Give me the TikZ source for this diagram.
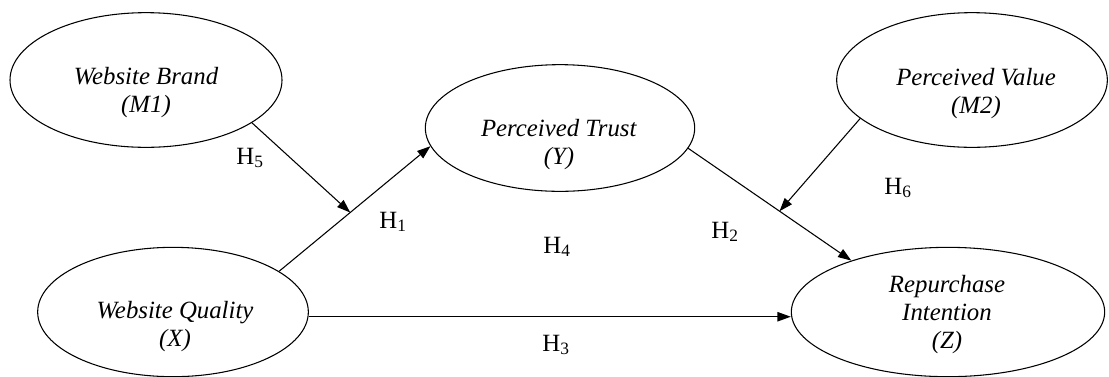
\documentclass[tikz,border=0pt]{standalone}
\usepackage{fontspec}
\setmainfont{Liberation Serif}
\usetikzlibrary{shapes.geometric,arrows.meta}

\begin{document}
\begin{tikzpicture}[x=0.75pt, y=-0.75pt, line width=0.8pt, >={Triangle[length=10pt,width=7pt]}, font=\fontsize{18.6}{21}\selectfont]
        \useasboundingbox (0,0) rectangle (1109,376);

        \node[draw, ellipse, minimum width=204pt, minimum height=101pt] (brand) at (146,80) {};
        \node[draw, ellipse, minimum width=202pt, minimum height=95pt] (trust) at (560,128) {};
        \node[draw, ellipse, minimum width=203pt, minimum height=101pt] (value) at (972,80) {};
        \node[draw, ellipse, minimum width=203pt, minimum height=97pt] (qual) at (173,312) {};
        \node[draw, ellipse, minimum width=235pt, minimum height=97pt] (repur) at (948,312) {};

        \node[align=center, inner sep=0pt] (brandtxt) at (146,93) {\textit{Website Brand}\\\textit{(M1)}};
        \node[align=center, inner sep=0pt] (trusttxt) at (559,145) {\textit{Perceived Trust}\\\textit{(Y)}};
        \node[align=center, inner sep=0pt] (valuetxt) at (976,94) {\textit{Perceived Value}\\\textit{(M2)}};
        \node[align=center, inner sep=0pt] (qualtxt) at (175,327) {\textit{Website Quality}\\\textit{(X)}};
        \node[align=center, inner sep=0pt] (repurtxt) at (947,315) {\textit{Repurchase}\\\textit{Intention}\\\textit{(Z)}};

        \draw[->] (qual.21.6) -- coordinate[pos=0.47] (mod1) (trust.188.7);
        \draw[->] (trust.351.8) -- coordinate[pos=0.56] (mod2) (repur.152.5);
        \draw[->] (qual.-2) -- (qual.-2 -| repur.west);
        \draw[->] (brand.338.6) -- (mod1);
        \draw[->] (value.199.2) -- (mod2);

        \node (h5) at (250,158) {H\textsubscript{5}};
        \node (h1) at (393,222) {H\textsubscript{1}};
        \node (h4) at (557,247) {H\textsubscript{4}};
        \node (h2) at (725,232) {H\textsubscript{2}};
        \node (h6) at (898,188) {H\textsubscript{6}};
        \node (h3) at (556,345) {H\textsubscript{3}};
    \end{tikzpicture}
\end{document}
